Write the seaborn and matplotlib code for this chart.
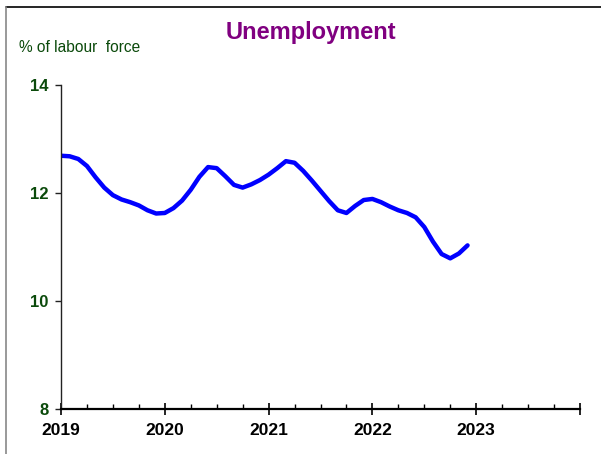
import pandas as pd
import seaborn as sns
import matplotlib
matplotlib.use("Agg")
import matplotlib.pyplot as plt
from matplotlib.lines import Line2D
from matplotlib.ticker import MultipleLocator

# Monthly unemployment rate, % of labour force, Jan 2019 - Dec 2022
start_year = 2019
month_index = list(range(48))
unemployment = [
    12.69, 12.68, 12.63, 12.50, 12.29, 12.10, 11.96, 11.88, 11.83, 11.77, 11.68, 11.62,
    11.63, 11.72, 11.86, 12.06, 12.30, 12.48, 12.46, 12.31, 12.15, 12.10, 12.16, 12.24,
    12.34, 12.46, 12.59, 12.56, 12.41, 12.23, 12.04, 11.85, 11.68, 11.63, 11.76, 11.87,
    11.89, 11.83, 11.75, 11.68, 11.63, 11.55, 11.37, 11.10, 10.87, 10.79, 10.88, 11.03,
]
year_ticks = [2019, 2020, 2021, 2022, 2023, 2024]
year_labels = ["2019", "2020", "2021", "2022", "2023", ""]
rate_ticks = [8, 10, 12, 14]

df = pd.DataFrame({
    "date": [start_year + m / 12 for m in month_index],
    "rate": unemployment,
})

sns.set_style("ticks")
plt.rcParams["font.family"] = ["Liberation Sans", "DejaVu Sans"]

W, H = 601, 454
fig = plt.figure(figsize=(W / 100, H / 100), dpi=100)
ax = fig.add_axes([61 / W, 1 - 409 / H, (580 - 61) / W, (409 - 85) / H])

sns.lineplot(data=df, x="date", y="rate", ax=ax, color="#0000FF",
             linewidth=3.2, solid_capstyle="round", solid_joinstyle="round")

ax.set_xlim(2019, 2024)
ax.set_ylim(8, 14)
ax.set_xticks(year_ticks)
ax.set_xticklabels(year_labels)
ax.xaxis.set_minor_locator(MultipleLocator(0.25))
ax.set_yticks(rate_ticks)
ax.set_yticklabels([str(v) for v in rate_ticks])
ax.set_xlabel("")
ax.set_ylabel("")

for side in ("top", "right"):
    ax.spines[side].set_visible(False)
ax.spines["bottom"].set_linewidth(1.6)
ax.spines["bottom"].set_color("black")
ax.spines["left"].set_linewidth(1.0)
ax.spines["left"].set_color("#222222")

ax.tick_params(axis="x", which="major", direction="inout", length=8, width=1.2,
               color="black", pad=6, labelsize=12.5, labelcolor="black")
ax.tick_params(axis="x", which="minor", direction="in", length=3.5, width=1.0,
               color="black")
ax.tick_params(axis="y", which="major", direction="out", length=4, width=1.0,
               color="#222222", pad=5, labelsize=12, labelcolor="#0B4A0B")
for lab in ax.get_xticklabels() + ax.get_yticklabels():
    lab.set_fontweight("bold")

fig.text(310.5 / W, 1 - 33 / H, "Unemployment", ha="center", va="center",
         fontsize=17, fontweight="bold", color="#800080")
fig.text(19 / W, 1 - 48 / H, "% of labour  force", ha="left", va="center",
         fontsize=11.2, color="#0B4A0B")

# Page frame along the top and left edges
fig.add_artist(Line2D([6 / W, 1.0], [1 - 7 / H, 1 - 7 / H],
                      transform=fig.transFigure, color="black", linewidth=1.2))
fig.add_artist(Line2D([6 / W, 6 / W], [0.0, 1 - 7 / H],
                      transform=fig.transFigure, color="#888888", linewidth=1.2))

fig.savefig("out.png", dpi=100)
